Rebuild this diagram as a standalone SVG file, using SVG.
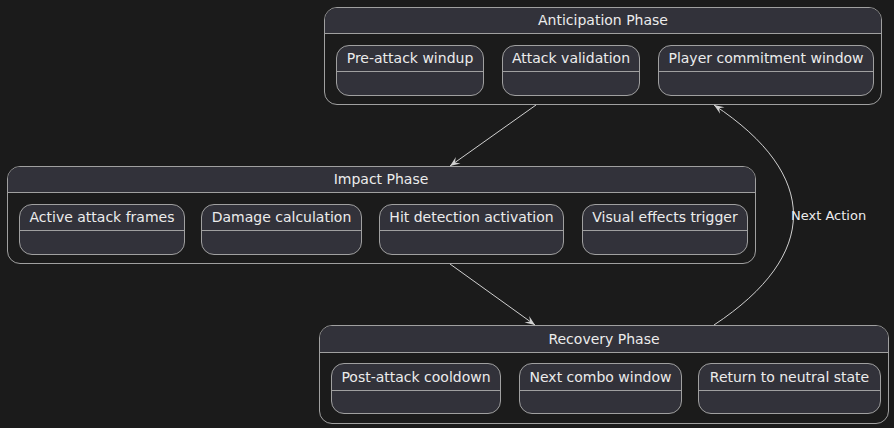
<svg xmlns="http://www.w3.org/2000/svg" width="894" height="428" viewBox="0 0 894 428">
<style>
.bg{fill:#1b1b1b}
.cont{fill:#1b1b1b;stroke:#a0a0a0;stroke-width:1}
.hdr{fill:#32323a}
.st{fill:#32323a;stroke:#a0a0a0;stroke-width:1}
.sep{stroke:#a0a0a0;stroke-width:1}
text{font-family:"DejaVu Sans",sans-serif;fill:#ececec;font-size:14px}
.t{text-anchor:middle}
.lbl{font-size:13px}
.conn{fill:none;stroke:#d0d0d0;stroke-width:1}
</style>
<defs>
<marker id="ah" viewBox="-11 -5 12 10" refX="0" refY="0" markerWidth="12" markerHeight="10" markerUnits="userSpaceOnUse" orient="auto">
<path d="M0,0 L-10,-4 L-6,0 L-10,4 Z" fill="#d0d0d0"/>
</marker>
</defs>
<rect class="bg" x="0" y="0" width="894" height="428"/>

<g id="anticipation">
<rect class="cont" x="324.5" y="7.5" width="557" height="97" rx="12.5"/>
<path class="hdr" d="M337,8 H869 A12,12 0 0 1 881,20 V33 H325 V20 A12,12 0 0 1 337,8 Z"/>
<line class="sep" x1="324.5" y1="33.5" x2="881.5" y2="33.5"/>
<text class="t" x="603" y="25">Anticipation Phase</text>
<g id="preattack">
<rect class="st" x="336.5" y="45.5" width="147" height="50" rx="12.5"/>
<line class="sep" x1="336.5" y1="71.5" x2="483.5" y2="71.5"/>
<text class="t" x="410" y="63">Pre-attack windup</text>
</g>
<g id="validation">
<rect class="st" x="502.5" y="45.5" width="137" height="50" rx="12.5"/>
<line class="sep" x1="502.5" y1="71.5" x2="639.5" y2="71.5"/>
<text class="t" x="571" y="63">Attack validation</text>
</g>
<g id="commitment">
<rect class="st" x="658.5" y="45.5" width="215" height="50" rx="12.5"/>
<line class="sep" x1="658.5" y1="71.5" x2="873.5" y2="71.5"/>
<text class="t" x="766" y="63">Player commitment window</text>
</g>
</g>

<g id="impact">
<rect class="cont" x="7.5" y="166.5" width="748" height="97" rx="12.5"/>
<path class="hdr" d="M20,167 H743 A12,12 0 0 1 755,179 V192 H8 V179 A12,12 0 0 1 20,167 Z"/>
<line class="sep" x1="7.5" y1="192.5" x2="755.5" y2="192.5"/>
<text class="t" x="381" y="184">Impact Phase</text>
<g id="active">
<rect class="st" x="19.5" y="204.5" width="165" height="50" rx="12.5"/>
<line class="sep" x1="19.5" y1="230.5" x2="184.5" y2="230.5"/>
<text class="t" x="102" y="222">Active attack frames</text>
</g>
<g id="damage">
<rect class="st" x="201.5" y="204.5" width="160" height="50" rx="12.5"/>
<line class="sep" x1="201.5" y1="230.5" x2="361.5" y2="230.5"/>
<text class="t" x="281.5" y="222">Damage calculation</text>
</g>
<g id="hitdetect">
<rect class="st" x="379.5" y="204.5" width="184" height="50" rx="12.5"/>
<line class="sep" x1="379.5" y1="230.5" x2="563.5" y2="230.5"/>
<text class="t" x="471.5" y="222">Hit detection activation</text>
</g>
<g id="visual">
<rect class="st" x="582.5" y="204.5" width="165" height="50" rx="12.5"/>
<line class="sep" x1="582.5" y1="230.5" x2="747.5" y2="230.5"/>
<text class="t" x="665" y="222">Visual effects trigger</text>
</g>
</g>

<g id="recovery">
<rect class="cont" x="319.5" y="325.5" width="569" height="98" rx="12.5"/>
<path class="hdr" d="M332,326 H876 A12,12 0 0 1 888,338 V352 H320 V338 A12,12 0 0 1 332,326 Z"/>
<line class="sep" x1="319.5" y1="352.5" x2="888.5" y2="352.5"/>
<text class="t" x="604" y="344">Recovery Phase</text>
<g id="postattack">
<rect class="st" x="331.5" y="363.5" width="169" height="50" rx="12.5"/>
<line class="sep" x1="331.5" y1="390.5" x2="500.5" y2="390.5"/>
<text class="t" x="416" y="382">Post-attack cooldown</text>
</g>
<g id="combo">
<rect class="st" x="519.5" y="363.5" width="162" height="50" rx="12.5"/>
<line class="sep" x1="519.5" y1="390.5" x2="681.5" y2="390.5"/>
<text class="t" x="600.5" y="382">Next combo window</text>
</g>
<g id="neutral">
<rect class="st" x="698.5" y="363.5" width="182" height="50" rx="12.5"/>
<line class="sep" x1="698.5" y1="390.5" x2="880.5" y2="390.5"/>
<text class="t" x="789.5" y="382">Return to neutral state</text>
</g>
</g>

<g id="connectors">
<path class="conn" d="M536,105 L450,166" marker-end="url(#ah)"/>
<path class="conn" d="M450,264 L535,325" marker-end="url(#ah)"/>
<path class="conn" d="M714,325 C820,255 820,175 714,105" marker-end="url(#ah)"/>
<text class="lbl" x="791" y="220">Next Action</text>
</g>
</svg>
